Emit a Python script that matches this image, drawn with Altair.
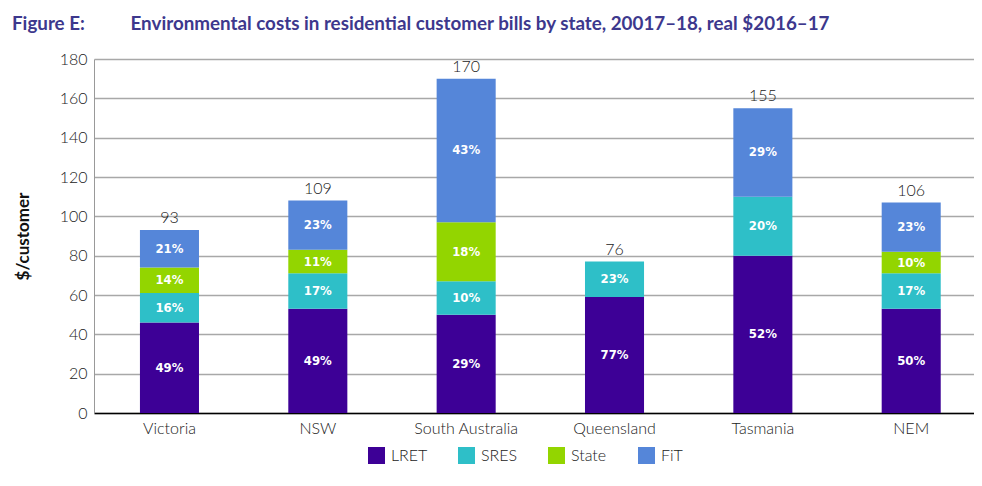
import altair as alt
import pandas as pd

# ---- data ----
regions = ["Victoria", "NSW", "South Australia", "Queensland", "Tasmania", "NEM"]
components = ["LRET", "SRES", "State", "FiT"]
colors = ["#3d0096", "#2ebfc8", "#93d500", "#5586d9"]

lret_vals = [46, 53, 50, 59, 80, 53]
sres_vals = [15, 18, 17, 18, 30, 18]
state_vals = [13, 12, 30, 0, 0, 11]
fit_vals = [19, 25, 73, 0, 45, 25]

lret_pct = [49, 49, 29, 77, 52, 50]
sres_pct = [16, 17, 10, 23, 20, 17]
state_pct = [14, 11, 18, None, None, 10]
fit_pct = [21, 23, 43, None, 29, 23]

totals = [93, 109, 170, 76, 155, 106]

y_ticks = [0, 20, 40, 60, 80, 100, 120, 140, 160, 180]

# ---- build tables ----
series_vals = [lret_vals, sres_vals, state_vals, fit_vals]
series_pct = [lret_pct, sres_pct, state_pct, fit_pct]
rows = []
for i, reg in enumerate(regions):
    for k, comp in enumerate(components):
        v = series_vals[k][i]
        if v > 0:
            rows.append({"region": reg, "component": comp, "order": k,
                         "value": v, "pct": f"{series_pct[k][i]}%"})
df = pd.DataFrame(rows)

tops = [sum(series_vals[k][i] for k in range(4)) for i in range(len(regions))]
df_tot = pd.DataFrame({"region": regions, "total": totals, "top": tops})

FONT = "Lato"
PCT_FONT = "DejaVu Sans Condensed, Liberation Sans Narrow, sans-serif"

x_scale = alt.Scale(paddingInner=0.602, paddingOuter=0.267, align=0.58)
x_axis = alt.Axis(labelAngle=0, ticks=False, labelFont=FONT, labelFontSize=16,
                  labelFontWeight=300, labelColor="#222222", labelPadding=7,
                  domainColor="#000000", domainWidth=1.5, grid=False)

y_scale = alt.Scale(domain=[0, 180], nice=False)
y_axis = alt.Axis(values=y_ticks, title="$/customer", ticks=False,
                  labelOverlap=False, labelFont=FONT, labelFontSize=16,
                  labelFontWeight=300, labelColor="#222222",
                  labelPadding=7, grid=True, gridColor="#a8a8a8", gridWidth=1.3,
                  domainColor="#999999", domainWidth=1,
                  titleFont=FONT, titleFontSize=17, titleFontWeight="bold",
                  titleColor="#111111", titleX=-62, titleY=177,
                  titleAngle=270)

bars = alt.Chart(df).mark_bar().encode(
    x=alt.X("region:N", sort=regions, title=None, scale=x_scale, axis=x_axis),
    y=alt.Y("value:Q", stack="zero", scale=y_scale, axis=y_axis),
    color=alt.Color(
        "component:N", sort=components,
        scale=alt.Scale(domain=components, range=colors),
        legend=alt.Legend(
            title=None, orient="none", direction="horizontal",
            legendX=274, legendY=388, symbolType="square", symbolSize=289,
            symbolStrokeWidth=0, labelFont=FONT, labelFontSize=16,
            labelFontWeight=300,
            labelColor="#222222", labelOffset=6, columnPadding=30,
            gridAlign="all", padding=0,
        ),
    ),
    order=alt.Order("order:Q", sort="ascending"),
)

pct_text = alt.Chart(df).transform_stack(
    stack="value", groupby=["region"], sort=[alt.SortField("order")],
    as_=["y0", "y1"],
).transform_calculate(
    mid="(datum.y0 + datum.y1) / 2"
).mark_text(
    color="white", font=PCT_FONT, fontSize=13, fontWeight="bold",
    baseline="middle",
).encode(
    x=alt.X("region:N", sort=regions, title=None, scale=x_scale, axis=x_axis),
    y=alt.Y("mid:Q", scale=y_scale, axis=y_axis),
    text="pct:N",
)

tot_text = alt.Chart(df_tot).mark_text(
    font=FONT, fontSize=16, fontWeight=300, color="#222222",
    baseline="alphabetic", dy=-7,
).encode(
    x=alt.X("region:N", sort=regions, title=None, scale=x_scale, axis=x_axis),
    y=alt.Y("top:Q", scale=y_scale, axis=y_axis),
    text="total:Q",
)

title_text = ("Figure E:" + "\u00a0" * 10 +
              "Environmental costs in residential customer bills by state, "
              "20017\u201318, real $2016\u201317")

chart = alt.layer(bars, pct_text, tot_text).properties(
    width=880, height=354,
    autosize=alt.AutoSizeParams(type="none"),
    padding={"left": 86, "top": 51, "right": 0, "bottom": 62},
    title=alt.TitleParams(
        text=title_text, anchor="start", frame="group", dx=-82,
        offset=17, font=FONT, fontSize=18.8,
        fontWeight="bold", color="#3d388d",
    ),
).configure_view(strokeWidth=0)

chart.save("out.html", embed_options={"renderer": "svg", "actions": False})
